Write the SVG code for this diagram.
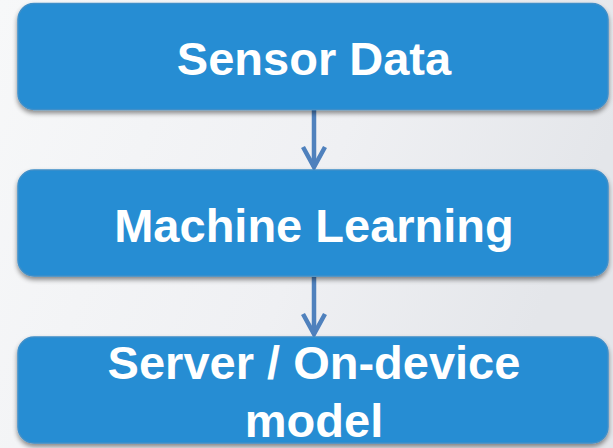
<svg xmlns="http://www.w3.org/2000/svg" width="613" height="448" viewBox="0 0 613 448">
<defs>
<linearGradient id="bg" x1="0" y1="0" x2="1" y2="0.3">
<stop offset="0" stop-color="#f7f8f9"/>
<stop offset="0.6" stop-color="#eff0f3"/>
<stop offset="1" stop-color="#e4e6ea"/>
</linearGradient>
<filter id="sh" x="-5%" y="-10%" width="110%" height="130%">
<feGaussianBlur in="SourceAlpha" stdDeviation="2.5"/>
<feOffset dx="0" dy="3" result="b"/>
<feComponentTransfer><feFuncA type="linear" slope="0.45"/></feComponentTransfer>
<feMerge><feMergeNode/><feMergeNode in="SourceGraphic"/></feMerge>
</filter>
<marker id="arr" viewBox="0 0 12 10" refX="11" refY="5" markerWidth="12" markerHeight="10" markerUnits="userSpaceOnUse" orient="auto">
<path d="M1,1 L11,5 L1,9" fill="none" stroke="#4f81bd" stroke-width="3.5" stroke-linejoin="miter"/>
</marker>
</defs>
<style>
.box{fill:#268dd3;stroke:#3f8fc9;stroke-width:1.5;filter:url(#sh)}
.t{font-family:"Liberation Sans",Arial,sans-serif;font-weight:bold;font-size:47px;fill:#ffffff;text-anchor:middle}
.c{stroke:#4f81bd;stroke-width:4.5;fill:none}
</style>
<rect width="613" height="448" fill="url(#bg)"/>
<g id="connectors">
<line class="c" x1="314" y1="110" x2="314" y2="167"/>
<path class="c" d="M303,147 L314,167 L325,147" stroke-width="4"/>
<line class="c" x1="314" y1="277" x2="314" y2="334"/>
<path class="c" d="M303,314 L314,334 L325,314" stroke-width="4"/>
</g>
<g id="sensor-data">
<rect class="box" x="18" y="3.5" width="590" height="106" rx="16"/>
<text class="t" x="314" y="75">Sensor Data</text>
</g>
<g id="machine-learning">
<rect class="box" x="18" y="170" width="590" height="106" rx="16"/>
<text class="t" x="314" y="242">Machine Learning</text>
</g>
<g id="server-model">
<rect class="box" x="18" y="337" width="590" height="106" rx="16"/>
<text class="t" x="314" y="379">Server / On-device</text>
<text class="t" x="314" y="437">model</text>
</g>
</svg>
